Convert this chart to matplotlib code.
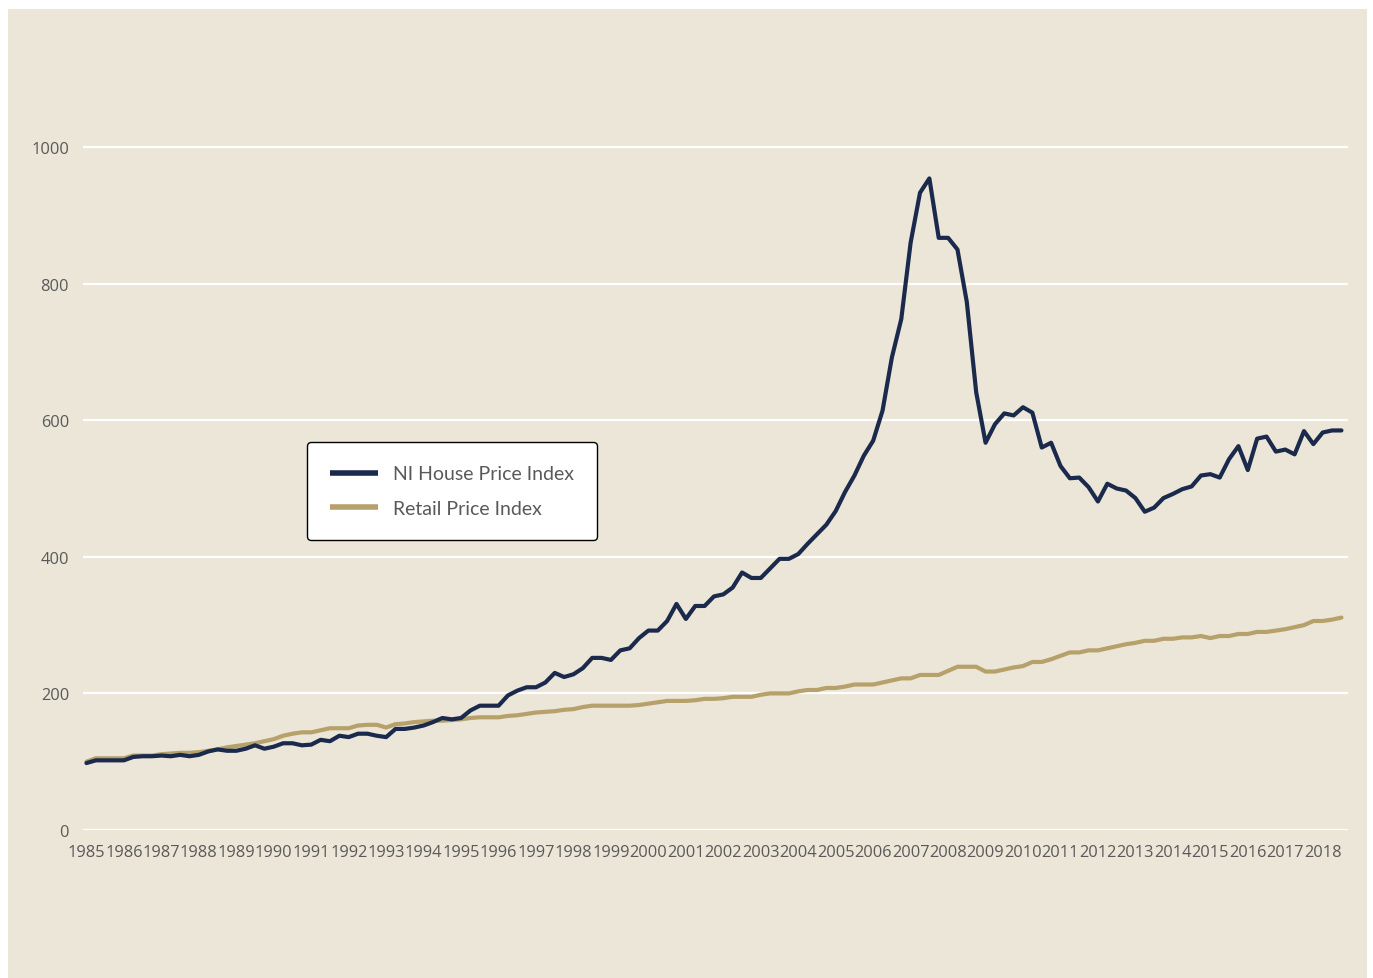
import matplotlib
matplotlib.use("Agg")
import matplotlib.pyplot as plt
from matplotlib.patches import Rectangle

# quarterly index values, 1985 Q1 .. 2018 Q3
years = list(range(1985, 2019))

house_price = [98, 102, 102, 102, 102, 107, 108, 108, 109, 108,
               110, 108, 110, 115, 118, 116, 116, 119, 124, 119,
               122, 127, 127, 124, 125, 132, 130, 138, 136, 141,
               141, 138, 136, 148, 148, 150, 153, 158, 164, 162,
               164, 175, 182, 182, 182, 197, 204, 209, 209, 216,
               230, 224, 228, 237, 252, 252, 249, 263, 266, 281,
               292, 292, 306, 331, 309, 328, 328, 342, 345, 355,
               377, 369, 369, 383, 397, 397, 404, 419, 433, 447,
               467, 495, 519, 548, 570, 614, 692, 748, 860, 933,
               954, 867, 867, 850, 773, 641, 567, 594, 610, 607,
               619, 611, 560, 567, 533, 515, 516, 502, 481, 507,
               500, 497, 486, 466, 472, 486, 492, 499, 503, 519,
               521, 516, 543, 562, 527, 573, 576, 554, 557, 550,
               584, 565, 582, 585, 585]

retail_price = [100, 105, 105, 105, 105, 109, 109, 109, 111, 112,
                113, 113, 114, 116, 118, 121, 123, 125, 127, 130,
                133, 138, 141, 143, 143, 146, 149, 149, 149, 153,
                154, 154, 150, 155, 156, 158, 159, 160, 160, 161,
                162, 164, 165, 165, 165, 167, 168, 170, 172, 173,
                174, 176, 177, 180, 182, 182, 182, 182, 182, 183,
                185, 187, 189, 189, 189, 190, 192, 192, 193, 195,
                195, 195, 198, 200, 200, 200, 203, 205, 205, 208,
                208, 210, 213, 213, 213, 216, 219, 222, 222, 227,
                227, 227, 233, 239, 239, 239, 232, 232, 235, 238,
                240, 246, 246, 250, 255, 260, 260, 263, 263, 266,
                269, 272, 274, 277, 277, 280, 280, 282, 282, 284,
                281, 284, 284, 287, 287, 290, 290, 292, 294, 297,
                300, 306, 306, 308, 311]

W, H = 1373, 979
fig = plt.figure(figsize=(W / 100, H / 100), dpi=100)
fig.patch.set_facecolor("white")
fig.patches.append(Rectangle((8 / W, 0), (1367 - 8) / W, (979 - 10) / H,
                             transform=fig.transFigure, facecolor="#ece6d8",
                             edgecolor="none", zorder=-10))

# axes placed so that 0..1000 maps onto the reference gridlines
left, right = 83 / W, 1348 / W
bottom, top = 1 - 831 / H, 1 - 140 / H
ax = fig.add_axes([left, bottom, right - left, top - bottom])
ax.set_facecolor("none")

x = list(range(len(house_price)))
ax.plot(x, house_price, color="#1b2a4c", lw=3, label="NI House Price Index",
        solid_capstyle="round", solid_joinstyle="round", zorder=3)
ax.plot(x, retail_price, color="#b6a16b", lw=3, label="Retail Price Index",
        solid_capstyle="round", solid_joinstyle="round", zorder=2)

ax.set_ylim(0, 1000 * (831 - 140) / (831 - 148))
ax.set_xlim(-0.37, 134.7)
ax.set_yticks([0, 200, 400, 600, 800, 1000])
ax.set_xticks([4 * i for i in range(len(years))])
ax.set_xticklabels([str(y) for y in years])

ax.grid(axis="y", color="white", lw=1.6)
ax.set_axisbelow(True)
for s in ax.spines.values():
    s.set_visible(False)
ax.tick_params(length=0, colors="#595959", labelsize=11.8)
ax.tick_params(axis="y", pad=10)
ax.tick_params(axis="x", pad=10)
for lab in ax.get_xticklabels() + ax.get_yticklabels():
    lab.set_fontfamily("Open Sans")

leg = fig.legend(loc="upper left", bbox_to_anchor=(307 / W, 1 - 443 / H),
                 bbox_transform=fig.transFigure, frameon=True, fancybox=True,
                 prop={"family": "Lato", "size": 14}, labelcolor="#595959",
                 handlelength=2.45, handletextpad=0.77, borderpad=1.2,
                 labelspacing=0.9, borderaxespad=0)
leg.get_frame().set_edgecolor("black")
leg.get_frame().set_linewidth(1.0)
leg.get_frame().set_facecolor("white")
leg.get_frame().set_alpha(1)
for line in leg.get_lines():
    line.set_linewidth(4)
    line.set_solid_capstyle("butt")

fig.savefig("out.png", dpi=100)
